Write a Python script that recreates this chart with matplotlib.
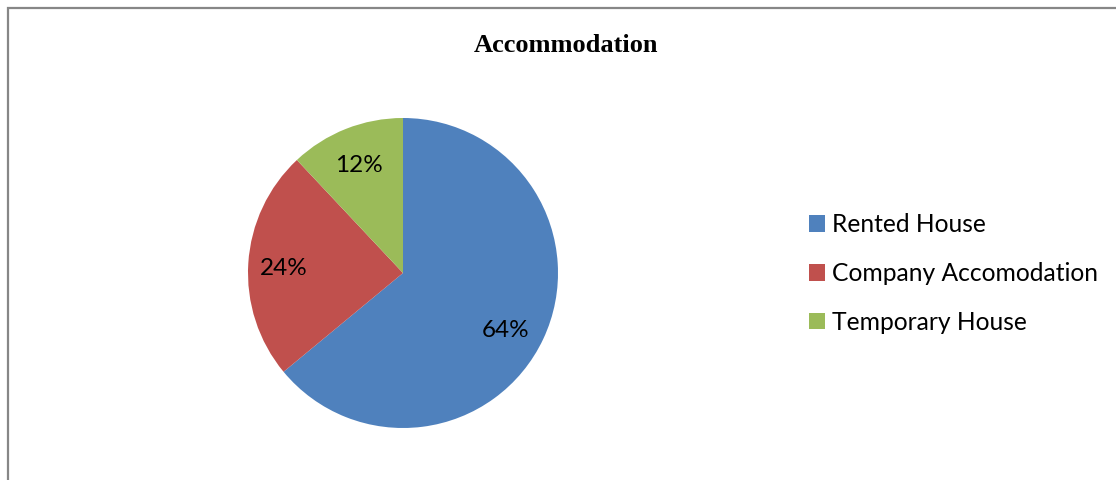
import matplotlib
matplotlib.use("Agg")
import matplotlib.pyplot as plt
from matplotlib.patches import Rectangle

categories = ["Rented House", "Company Accomodation", "Temporary House"]
shares = [64, 24, 12]
colors = ["#4F81BD", "#C0504D", "#9BBB59"]

W, H = 1116, 480
fig = plt.figure(figsize=(W / 100, H / 100), dpi=100)

# chart frame (top and left edges show, the rest runs off the canvas)
fig.patches.append(Rectangle((8 / W, -0.1), 1.2, 1 - 8 / H + 0.1,
                             transform=fig.transFigure, fill=False,
                             edgecolor="#878787", linewidth=1.6))

fig.text(566 / W, 1 - 45 / H, "Accommodation", ha="center", va="center",
         fontsize=19, fontweight="bold", family="Liberation Serif")

cx, cy, r = 403, 273, 155
ax = fig.add_axes([(cx - r) / W, (H - cy - r) / H, 2 * r / W, 2 * r / H])
wedges, texts, autotexts = ax.pie(shares, colors=colors, startangle=90,
                                  counterclock=False, autopct="%1.0f%%",
                                  pctdistance=0.77,
                                  textprops=dict(fontsize=17.5, family="Lato"))
ax.set_xlim(-1, 1)
ax.set_ylim(-1, 1)

# drop the percent labels a touch; the big slice's label sits a bit lower-left
for i, t in enumerate(autotexts):
    x, y = t.get_position()
    y -= 3 / r
    if i == 0:
        x -= 5 / r
        y -= 4 / r
    t.set_position((x, y))

# legend sits to the right, middle row level with y=273 px
leg_x = (799 - (cx - r)) / (2 * r)
leg_y = (cy + r - 273.5) / (2 * r)
ax.legend(wedges, categories, loc="center left",
          bbox_to_anchor=(leg_x, leg_y),
          frameon=False, prop=dict(family="Lato", size=17.7),
          handlelength=0.65, handleheight=0.65, handletextpad=0.3,
          labelspacing=1.05, borderaxespad=0)

fig.savefig("out.png", dpi=100)
